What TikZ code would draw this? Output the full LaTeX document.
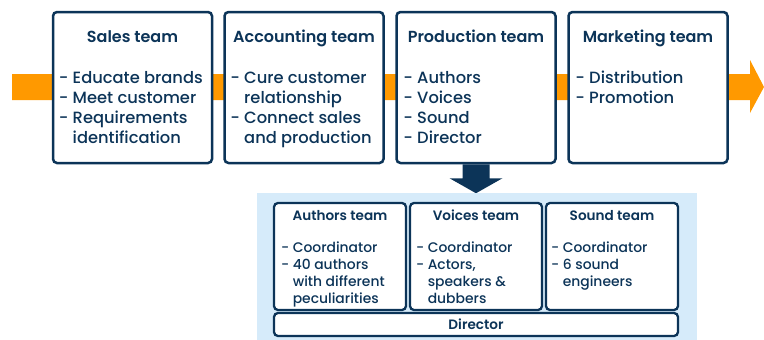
\documentclass[tikz,border=0pt]{standalone}
\usepackage{fontspec}
\setmainfont{Poppins}[UprightFont=* Medium, BoldFont=* SemiBold]
\usetikzlibrary{positioning}

\definecolor{navy}{RGB}{12,52,88}
\definecolor{band}{RGB}{255,153,0}
\definecolor{pale}{RGB}{214,235,250}

% list of duties, continuation lines indented past the dash
\newcommand\cont{\hphantom{-~}}
\newcommand\duties[1]{\begin{tabular}[t]{@{}l@{}}#1\end{tabular}}

\tikzset{
  team/.style={draw=navy, line width=2.5pt, rounded corners=4pt, fill=white,
    minimum width=159pt, minimum height=151pt, inner sep=0pt},
  subteam/.style={team, line width=2.3pt, minimum width=132pt, minimum height=107pt},
  head/.style={font=\fontsize{16}{20}\selectfont\bfseries, text=navy, inner sep=0pt, anchor=base},
  list/.style={font=\fontsize{16.3}{20}\selectfont, text=navy, inner sep=0pt, anchor=base west},
  subhead/.style={head, font=\fontsize{13.6}{17}\selectfont\bfseries},
  sublist/.style={list, font=\fontsize{13.9}{17}\selectfont},
}

\begin{document}
\begin{tikzpicture}[x=1pt,y=-1pt]
    \useasboundingbox (0,0) rectangle (764,340);

    % the orange flow arrow behind the teams
    \fill[band] (12,74) -- (750,74) -- (750,60) -- (764,87) -- (750,113)
      -- (750,100) -- (12,100) -- cycle;

    % the four teams
    \node[team] (sales) at (132.5,87.5) {};
    \node[team] (accounting) at (304,87.5) {};
    \node[team] (production) at (476,87.5) {};
    \node[team] (marketing) at (648,87.5) {};

    \node[head] (sales-head) at ([yshift=-32pt]sales.north) {Sales team};
    \node[list] (sales-list) at ([xshift=7pt,yshift=-73pt]sales.north west)
      {\duties{- Educate brands\\- Meet customer\\- Requirements\\\cont identification}};

    \node[head] (accounting-head) at ([yshift=-32pt]accounting.north) {Accounting team};
    \node[list] (accounting-list) at ([xshift=7pt,yshift=-73pt]accounting.north west)
      {\duties{- Cure customer\\\cont relationship\\- Connect sales\\\cont and production}};

    \node[head] (production-head) at ([yshift=-32pt]production.north) {Production team};
    \node[list] (production-list) at ([xshift=8pt,yshift=-73pt]production.north west)
      {\duties{- Authors\\- Voices\\- Sound\\- Director}};

    \node[head] (marketing-head) at ([yshift=-32pt]marketing.north) {Marketing team};
    \node[list] (marketing-list) at ([xshift=8pt,yshift=-73pt]marketing.north west)
      {\duties{- Distribution\\- Promotion}};

    % production breaks down into sub teams
    \fill[navy] ([xshift=-13.5pt]production.south) -- ++(0,14) -- ++(-13,0)
      -- ++(26.5,15) -- ++(26.5,-15) -- ++(-13,0) -- ++(0,-14) -- cycle;

    \fill[pale] (257,193) rectangle (697,340);

    \node[subteam] (authors) at (340,256.5) {};
    \node[subteam] (voices) at (476,256.5) {};
    \node[subteam] (sound) at (612,256.5) {};
    \node[subteam, minimum width=404pt, minimum height=23pt] (director) at (476,324.5) {};

    \node[subhead] (authors-head) at ([yshift=-19pt]authors.north) {Authors team};
    \node[sublist] (authors-list) at ([xshift=8pt,yshift=-51pt]authors.north west)
      {\duties{- Coordinator\\- 40 authors\\\cont with different\\\cont peculiarities}};

    \node[subhead] (voices-head) at ([yshift=-19pt]voices.north) {Voices team};
    \node[sublist] (voices-list) at ([xshift=7pt,yshift=-51pt]voices.north west)
      {\duties{- Coordinator\\- Actors,\\\cont speakers \&\\\cont dubbers}};

    \node[subhead] (sound-head) at ([yshift=-19pt]sound.north) {Sound team};
    \node[sublist] (sound-list) at ([xshift=6pt,yshift=-51pt]sound.north west)
      {\duties{- Coordinator\\- 6 sound\\\cont engineers}};

    \node[subhead, anchor=center] (director-head) at (director) {Director};
\end{tikzpicture}
\end{document}
